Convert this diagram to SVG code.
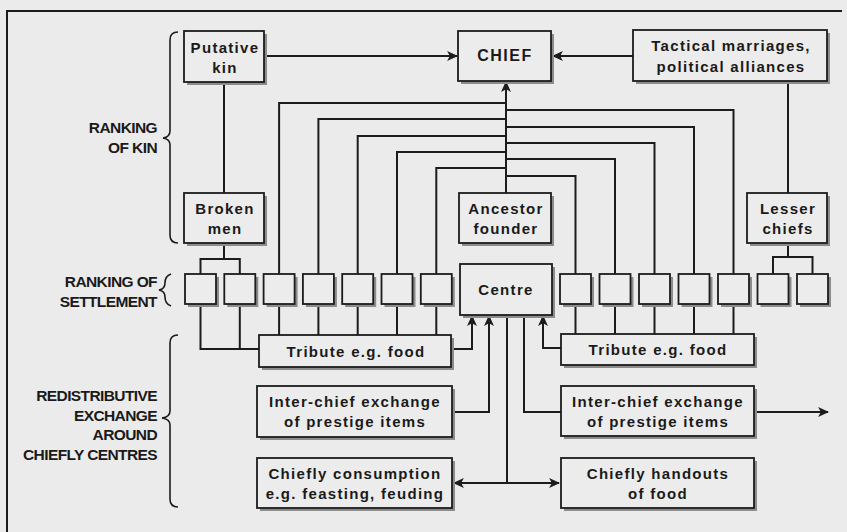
<svg xmlns="http://www.w3.org/2000/svg" width="847" height="532" viewBox="0 0 847 532">
<style>
.bg{fill:#ebebeb}
.box{fill:#ececec;stroke:#1c1c1c;stroke-width:1.8}
.sh{fill:#8c8c8c}
.ln{fill:none;stroke:#1c1c1c;stroke-width:2}
.br{fill:none;stroke:#1c1c1c;stroke-width:1.6}
.t{font-family:"Liberation Sans",Arial,sans-serif;font-weight:bold;font-size:15px;letter-spacing:1.3px;fill:#1a1a1a;text-anchor:middle}
.lab{font-family:"Liberation Sans",Arial,sans-serif;font-weight:bold;font-size:15.5px;letter-spacing:-0.6px;fill:#1a1a1a;text-anchor:end}
</style>
<defs>
<marker id="ah" viewBox="0 0 10 10" refX="9" refY="5" markerWidth="11" markerHeight="11" orient="auto-start-reverse" markerUnits="userSpaceOnUse">
<path d="M0,0.5 L10,5 L0,9.5 L2.5,5 z" fill="#1c1c1c"/>
</marker>
</defs>
<rect class="bg" x="0" y="0" width="847" height="532"/>
<path class="ln" d="M7,532 V11 H842"/>

<g id="brackets">
<path class="br" d="M178,32 Q170,32 170,40 V131 Q170,137 163,138 Q170,139 170,145 V235 Q170,243 178,243"/>
<path class="br" d="M171,274 Q165,276 165,283 Q165,289 159,290 Q165,291 165,297 Q165,304 171,306"/>
<path class="br" d="M178,335 Q170,335 170,343 V411 Q170,417 162,418 Q170,419 170,425 V499 Q170,507 178,507"/>
</g>
<g id="labels">
<text class="lab" x="157" y="133">RANKING</text>
<text class="lab" x="157" y="153">OF KIN</text>
<text class="lab" x="157" y="287">RANKING OF</text>
<text class="lab" x="157" y="307">SETTLEMENT</text>
<text class="lab" x="157" y="401">REDISTRIBUTIVE</text>
<text class="lab" x="157" y="420.5">EXCHANGE</text>
<text class="lab" x="157" y="440">AROUND</text>
<text class="lab" x="157" y="459.5">CHIEFLY CENTRES</text>
</g>

<g id="connectors">
<path class="ln" d="M265,56 H457" marker-end="url(#ah)"/>
<path class="ln" d="M633,56 H553" marker-end="url(#ah)"/>
<path class="ln" d="M224,82 V193"/>
<path class="ln" d="M788,81 V193"/>
<path class="ln" d="M506,193 V82" marker-end="url(#ah)"/>
<path class="ln" d="M279.1,274 V103 H506"/>
<path class="ln" d="M318.4,274 V119 H506"/>
<path class="ln" d="M357.7,274 V136 H506"/>
<path class="ln" d="M397,274 V152 H506"/>
<path class="ln" d="M436.3,274 V168 H506"/>
<path class="ln" d="M733.5,274 V110 H506"/>
<path class="ln" d="M694,274 V127 H506"/>
<path class="ln" d="M654.5,274 V143 H506"/>
<path class="ln" d="M615,274 V159 H506"/>
<path class="ln" d="M575.5,274 V176 H506"/>
<path class="ln" d="M224,243 V259 M200.5,274 V259 H239.8 V274"/>
<path class="ln" d="M788,243 V257 M773,274 V257 H812.5 V274"/>
<path class="ln" d="M279.1,304 V335 M318.4,304 V335 M357.7,304 V335 M397,304 V335 M436.3,304 V335"/>
<path class="ln" d="M575.5,304 V334 M615,304 V334 M654.5,304 V334 M694,304 V334 M733.5,304 V334"/>
<path class="ln" d="M200.5,304 V349 H259 M239.8,304 V349"/>
<path class="ln" d="M451,349 H472 V316" marker-end="url(#ah)"/>
<path class="ln" d="M561,348 H543 V316" marker-end="url(#ah)"/>
<path class="ln" d="M452,412 H489 V316" marker-end="url(#ah)"/>
<path class="ln" d="M524,315 V412 H561"/>
<path class="ln" d="M754,412 H828" marker-end="url(#ah)"/>
<path class="ln" d="M507,315 V483"/>
<path class="ln" d="M454,483 H559" marker-start="url(#ah)" marker-end="url(#ah)"/>
</g>

<g id="putative-kin">
<rect class="sh" x="187" y="34" width="80" height="51"/>
<rect class="box" x="184" y="31" width="80" height="51"/>
<text class="t" x="225" y="52.5">Putative</text>
<text class="t" x="225" y="73">kin</text>
</g>
<g id="chief">
<rect class="sh" x="461" y="34" width="93" height="50"/>
<rect class="box" x="458" y="31" width="93" height="50"/>
<text class="t" x="505" y="61" style="font-size:16px;letter-spacing:1.5px">CHIEF</text>
</g>
<g id="tactical-marriages">
<rect class="sh" x="636" y="33" width="194" height="51"/>
<rect class="box" x="633" y="30" width="194" height="51"/>
<text class="t" x="731" y="51">Tactical marriages,</text>
<text class="t" x="731" y="71.5">political alliances</text>
</g>
<g id="broken-men">
<rect class="sh" x="187" y="196" width="80" height="50"/>
<rect class="box" x="184" y="193" width="80" height="50"/>
<text class="t" x="225" y="214">Broken</text>
<text class="t" x="225" y="234">men</text>
</g>
<g id="ancestor-founder">
<rect class="sh" x="462" y="196" width="92" height="50"/>
<rect class="box" x="459" y="193" width="92" height="50"/>
<text class="t" x="506" y="213.5">Ancestor</text>
<text class="t" x="506" y="233.5">founder</text>
</g>
<g id="lesser-chiefs">
<rect class="sh" x="750" y="196" width="80" height="50"/>
<rect class="box" x="747" y="193" width="80" height="50"/>
<text class="t" x="788" y="213.5">Lesser</text>
<text class="t" x="788" y="233.5">chiefs</text>
</g>

<g id="s1"><rect class="sh" x="188" y="277" width="31" height="30"/><rect class="box" x="185" y="274" width="31" height="30"/></g>
<g id="s2"><rect class="sh" x="227.3" y="277" width="31" height="30"/><rect class="box" x="224.3" y="274" width="31" height="30"/></g>
<g id="s3"><rect class="sh" x="266.6" y="277" width="31" height="30"/><rect class="box" x="263.6" y="274" width="31" height="30"/></g>
<g id="s4"><rect class="sh" x="305.9" y="277" width="31" height="30"/><rect class="box" x="302.9" y="274" width="31" height="30"/></g>
<g id="s5"><rect class="sh" x="345.2" y="277" width="31" height="30"/><rect class="box" x="342.2" y="274" width="31" height="30"/></g>
<g id="s6"><rect class="sh" x="384.5" y="277" width="31" height="30"/><rect class="box" x="381.5" y="274" width="31" height="30"/></g>
<g id="s7"><rect class="sh" x="423.8" y="277" width="31" height="30"/><rect class="box" x="420.8" y="274" width="31" height="30"/></g>
<g id="centre">
<rect class="sh" x="463" y="267" width="92" height="51"/>
<rect class="box" x="460" y="264" width="92" height="51"/>
<text class="t" x="506" y="295">Centre</text>
</g>
<g id="s8"><rect class="sh" x="563" y="277" width="31" height="30"/><rect class="box" x="560" y="274" width="31" height="30"/></g>
<g id="s9"><rect class="sh" x="602.5" y="277" width="31" height="30"/><rect class="box" x="599.5" y="274" width="31" height="30"/></g>
<g id="s10"><rect class="sh" x="642" y="277" width="31" height="30"/><rect class="box" x="639" y="274" width="31" height="30"/></g>
<g id="s11"><rect class="sh" x="681.5" y="277" width="31" height="30"/><rect class="box" x="678.5" y="274" width="31" height="30"/></g>
<g id="s12"><rect class="sh" x="721" y="277" width="31" height="30"/><rect class="box" x="718" y="274" width="31" height="30"/></g>
<g id="s13"><rect class="sh" x="760.5" y="277" width="31" height="30"/><rect class="box" x="757.5" y="274" width="31" height="30"/></g>
<g id="s14"><rect class="sh" x="800" y="277" width="31" height="30"/><rect class="box" x="797" y="274" width="31" height="30"/></g>

<g id="tribute-left">
<rect class="sh" x="262" y="338" width="192" height="32"/>
<rect class="box" x="259" y="335" width="192" height="32"/>
<text class="t" x="356" y="356.5">Tribute e.g. food</text>
</g>
<g id="tribute-right">
<rect class="sh" x="564" y="337" width="193" height="31"/>
<rect class="box" x="561" y="334" width="193" height="31"/>
<text class="t" x="658" y="355">Tribute e.g. food</text>
</g>
<g id="exchange-left">
<rect class="sh" x="260" y="389" width="195" height="51"/>
<rect class="box" x="257" y="386" width="195" height="51"/>
<text class="t" x="355" y="406.5">Inter-chief exchange</text>
<text class="t" x="355" y="427">of prestige items</text>
</g>
<g id="exchange-right">
<rect class="sh" x="564" y="389" width="193" height="50"/>
<rect class="box" x="561" y="386" width="193" height="50"/>
<text class="t" x="658" y="406.5">Inter-chief exchange</text>
<text class="t" x="658" y="427">of prestige items</text>
</g>
<g id="consumption">
<rect class="sh" x="260" y="461" width="195" height="50"/>
<rect class="box" x="257" y="458" width="195" height="50"/>
<text class="t" x="355" y="478.5">Chiefly consumption</text>
<text class="t" x="355" y="499">e.g. feasting, feuding</text>
</g>
<g id="handouts">
<rect class="sh" x="564" y="461" width="193" height="50"/>
<rect class="box" x="561" y="458" width="193" height="50"/>
<text class="t" x="658" y="478.5">Chiefly handouts</text>
<text class="t" x="658" y="499">of food</text>
</g>
</svg>
